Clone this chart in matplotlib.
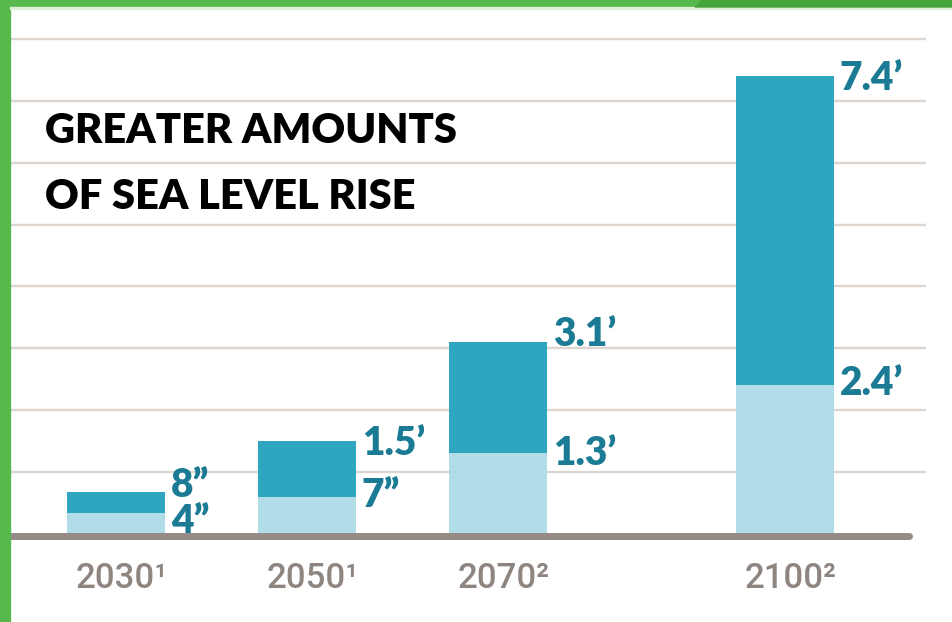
import matplotlib
matplotlib.use("Agg")
import matplotlib.pyplot as plt
from matplotlib.patches import Rectangle, Polygon

# Projected sea level rise (feet) by year
years = [2030, 2050, 2070, 2100]
year_labels = ["2030¹", "2050¹", "2070²", "2100²"]
low_ft = [4 / 12, 7 / 12, 1.3, 2.4]
high_ft = [8 / 12, 1.5, 3.1, 7.4]
low_labels = ["4”", "7”", "1.3’", "2.4’"]
high_labels = ["8”", "1.5’", "3.1’", "7.4’"]
title_lines = ["GREATER AMOUNTS", "OF SEA LEVEL RISE"]

# styling
DARK = "#2fa6bf"
LIGHT = "#abdbe6"
VALUE_TXT = "#1b7b95"
YEAR_TXT = "#8e8580"
BASE = "#958a85"
GRID = "#ddd5cf"
GREEN_L = "#57b84b"
GREEN_D = "#43a437"

W, H = 952, 622
PX_PER_YEAR = 9.55
PX_PER_FT = 61.8
X0_PX = 116          # pixel position of the first year
Y0_PX = 533.5        # pixel position of zero feet

fig = plt.figure(figsize=(W / 100, H / 100), dpi=100)
ax = fig.add_axes([0, 0, 1, 1])
ax.set_xlim(years[0] - X0_PX / PX_PER_YEAR, years[0] + (W - X0_PX) / PX_PER_YEAR)
ax.set_ylim(-(H - Y0_PX) / PX_PER_FT, Y0_PX / PX_PER_FT)
ax.axis("off")


def px_x(p):
    return years[0] + (p - X0_PX) / PX_PER_YEAR


def dy(p):
    return p / PX_PER_FT


# horizontal guide lines every foot
ax.hlines(range(1, 9), px_x(10), px_x(926), color=GRID, lw=1.7, zorder=1)

bar_w = 98 / PX_PER_YEAR
ax.bar(years, low_ft, width=bar_w, color=LIGHT, alpha=0.92, zorder=2, linewidth=0)
ax.bar(years, [h - l for h, l in zip(high_ft, low_ft)], bottom=low_ft,
       width=bar_w, color=DARK, zorder=2, linewidth=0)

# ground line
ax.plot([px_x(10), px_x(909)], [-dy(2.5), -dy(2.5)], color=BASE, lw=5,
        solid_capstyle="round", zorder=3)

# value labels beside each bar
val_font = dict(family="Lato", weight="heavy", size=28, color=VALUE_TXT)
cap_half = dy(14)
high_nudge = [9, 0, 10, 0]
low_nudge = [-6, 4, 2, 4]
for yr, lo, hi, lt, ht, ln, hn in zip(years, low_ft, high_ft, low_labels,
                                      high_labels, low_nudge, high_nudge):
    xt = yr + bar_w / 2 + 6 / PX_PER_YEAR
    ax.text(xt, hi - cap_half + dy(hn), ht, ha="left", va="baseline", zorder=4, **val_font)
    ax.text(xt, lo - cap_half + dy(ln), lt, ha="left", va="baseline", zorder=4, **val_font)

# year labels
for yr, lab in zip(years, year_labels):
    ax.text(yr + 6 / PX_PER_YEAR, -dy(588 - Y0_PX), lab, ha="center", va="baseline",
            family="Roboto", weight="medium", size=25, color=YEAR_TXT)

# heading
for i, line in enumerate(title_lines):
    ax.text(px_x(45), (Y0_PX - 143 - 66 * i) / PX_PER_FT, line, ha="left", va="baseline",
            family="Lato", weight="heavy", size=30, color="black")

# green frame on the left and top
fig.patches.append(Rectangle((0, 0), 10 / W, 1, transform=fig.transFigure,
                             color=GREEN_L, zorder=10))
fig.patches.append(Rectangle((0, 1 - 7 / H), 1, 7 / H, transform=fig.transFigure,
                             color=GREEN_L, zorder=10))
fig.patches.append(Polygon([(695 / W, 1 - 7 / H), (703 / W, 1), (1, 1), (1, 1 - 7 / H)],
                           closed=True, transform=fig.transFigure, color=GREEN_D, zorder=11))
fig.patches.append(Rectangle((10 / W, 1 - 9 / H), 1, 2 / H, transform=fig.transFigure,
                             color="#dcefd6", zorder=10))

fig.savefig("out.png", dpi=100, facecolor="white")
